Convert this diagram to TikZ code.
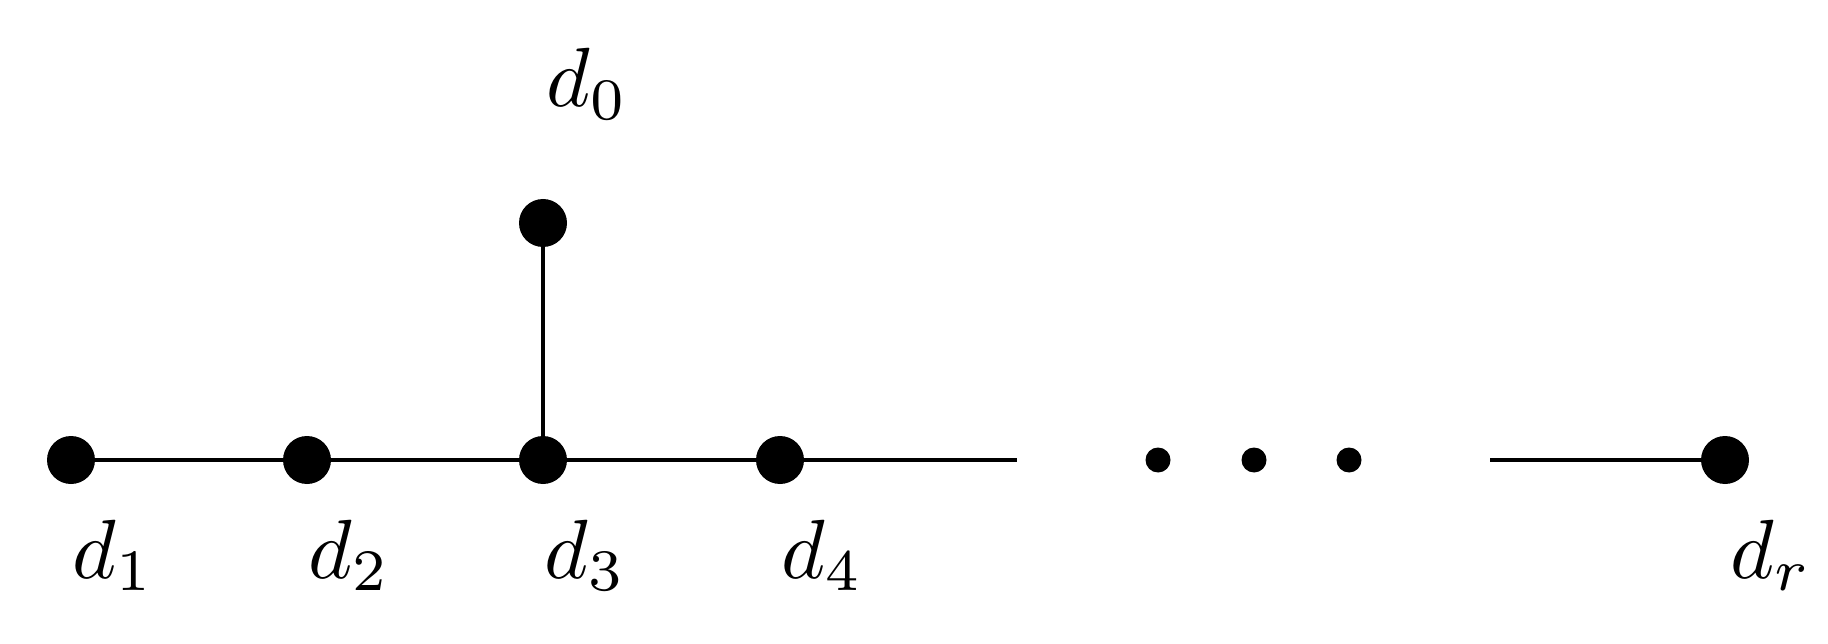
\documentclass[tikz,border=0pt]{standalone}
\begin{document}
\begin{tikzpicture}[x=1pt,y=-1pt,
  vertex/.style={circle,fill=black,inner sep=0pt,minimum size=48pt},
  smalldot/.style={circle,fill=black,inner sep=0pt,minimum size=25pt},
  edge/.style={line width=3.3pt},
  lab/.style={anchor=base west,inner sep=0pt,scale=8.4}]
\useasboundingbox (0,0) rectangle (1828,644);
\node[vertex] (d1) at (71,460) {};
\node[vertex] (d2) at (307,460) {};
\node[vertex] (d3) at (543,460) {};
\node[vertex] (d4) at (780,460) {};
\node[vertex] (dr) at (1725,460) {};
\node[vertex] (d0) at (543,223) {};
\node[smalldot] (p1) at (1158,460) {};
\node[smalldot] (p2) at (1254,460) {};
\node[smalldot] (p3) at (1349,460) {};
\coordinate (e1) at (1017,460);
\coordinate (e2) at (1490,460);
\draw[edge] (d1) -- (d2) -- (d3) -- (d4) -- (e1);
\draw[edge] (e2) -- (dr);
\draw[edge] (d0) -- (d3);
\node[lab] (l1) at (71,578) {$d_1$};
\node[lab] (l2) at (307,578) {$d_2$};
\node[lab] (l3) at (543,578) {$d_3$};
\node[lab] (l4) at (780,578) {$d_4$};
\node[lab] (lr) at (1729,578) {$d_r$};
\node[lab] (l0) at (545,107) {$d_0$};
\end{tikzpicture}
\end{document}
